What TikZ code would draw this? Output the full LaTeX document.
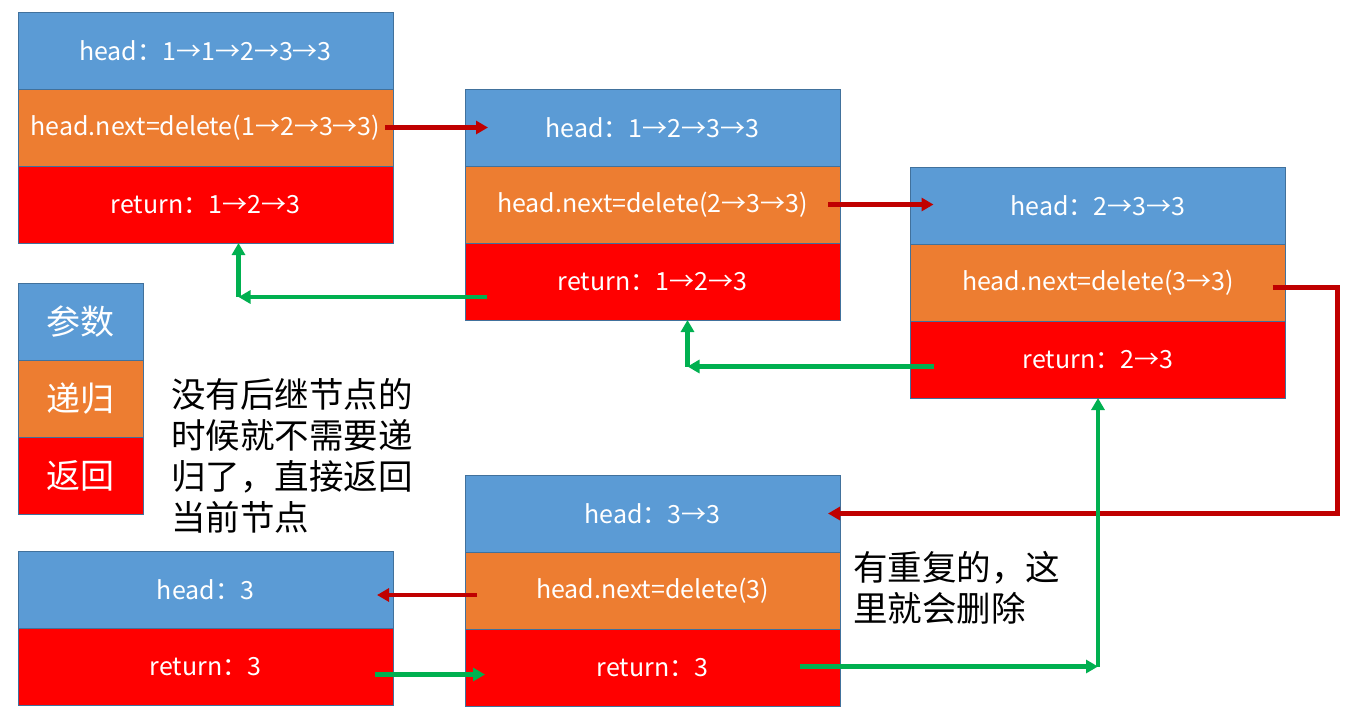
\documentclass[tikz,border=0pt]{standalone}
\usepackage{fontspec}
\newfontfamily\cjk{Noto Sans CJK SC}
\usetikzlibrary{arrows.meta,positioning}
\definecolor{paramblue}{HTML}{5B9BD5}
\definecolor{recorange}{HTML}{ED7D31}
\definecolor{retred}{HTML}{FF0000}
\definecolor{edgeblue}{HTML}{41719C}
\definecolor{calldark}{HTML}{C00000}
\definecolor{backgreen}{HTML}{00B050}
\begin{document}
\begin{tikzpicture}[x=1pt,y=-1pt]
            \tikzset{Cell/.style={%
                    shape=rectangle,%
                    draw=edgeblue,%
                    line width=0.8pt,%
                    minimum width=375pt,%
                    minimum height=77pt,%
                    inner sep=0pt,%
                    outer sep=0pt,%
                    text=white,%
                    font=\cjk\fontsize{25}{29}\selectfont,%
                    node distance=77pt,%
                },
                Head/.style={Cell, fill=paramblue},
                Next/.style={Cell, fill=recorange},
                Ret/.style={Cell, fill=retred},
                Key/.style={Cell, minimum width=125pt, font=\cjk\fontsize{34}{38}\selectfont},
                Note/.style={align=left, anchor=north west, inner sep=0pt, font=\cjk\fontsize{34.5}{41}\selectfont},
                call/.style={draw=calldark, line width=4.2pt, -{Triangle[length=12pt,width=13pt]}},
                back/.style={draw=backgreen, line width=4.2pt, -{Triangle[length=12pt,width=13pt]}},
            }
                \useasboundingbox (0,0) rectangle (1349,721);

                % first call
                \node[Head] (hA) at (205.5,50.5) {head：1→1→2→3→3};
                \node[Next, below of=hA] (nA) {head.next=delete(1→2→3→3)};
                \node[Ret, below of=nA] (rA) {return：1→2→3};
                % second call
                \node[Head] (hB) at (652.5,127.5) {head：1→2→3→3};
                \node[Next, below of=hB] (nB) {head.next=delete(2→3→3)};
                \node[Ret, below of=nB] (rB) {return：1→2→3};
                % third call
                \node[Head] (hC) at (1098,205.5) {head：2→3→3};
                \node[Next, below of=hC] (nC) {head.next=delete(3→3)};
                \node[Ret, below of=nC] (rC) {return：2→3};
                % fourth call
                \node[Head] (hD) at (652.5,513.5) {head：3→3};
                \node[Next, below of=hD] (nD) {head.next=delete(3)};
                \node[Ret, below of=nD] (rD) {return：3};
                % last node
                \node[Head] (hE) at (205.5,589.5) {head：3};
                \node[Ret, below of=hE] (rE) {return：3};

                % legend
                \node[Key, fill=paramblue] (k1) at (80.5,321.5) {参数};
                \node[Key, fill=recorange, below of=k1] (k2) {递归};
                \node[Key, fill=retred, below of=k2] (k3) {返回};

                \node[Note] (t1) at (171,378) {没有后继节点的\\时候就不需要递\\归了，直接返回\\当前节点};
                \node[Note] (t2) at (853,551) {有重复的，这\\里就会删除};

                % recursive calls
                \coordinate (c1) at ([xshift=-8pt]nA.east);
                \coordinate (e1) at ([xshift=23pt]hB.west);
                \path[call] (c1) -- (c1 -| e1);
                \coordinate (c2) at ([xshift=-12pt]nB.east);
                \coordinate (e2) at ([xshift=23pt]hC.west);
                \path[call] (c2) -- (c2 -| e2);
                \coordinate (c3) at ([xshift=-13pt,yshift=-5pt]nC.east);
                \path[call] (c3) -- ++(65,0) |- ([xshift=-12pt]hD.east);
                \coordinate (c4) at ([xshift=12pt,yshift=-4.5pt]nD.west);
                \coordinate (e4) at ([xshift=-16pt]hE.east);
                \path[call] (c4) -- (c4 -| e4);

                % returns
                \coordinate (g1) at ([xshift=-18pt,yshift=-8pt]rE.east);
                \coordinate (u1) at ([xshift=20pt]rD.west);
                \path[back] (g1) -- (g1 -| u1);
                \coordinate (g2) at ([xshift=-40pt,yshift=1pt]rD.east);
                \path[back] (g2) -- (g2 -| rC.south);
                \path[back] (g2 -| rC.south) -- (rC.south);
                \coordinate (g3) at ([xshift=23pt,yshift=-7pt]rC.west);
                \coordinate (u3) at ([xshift=35pt]rB.south);
                \path[back] (g3) -- (g3 -| u3);
                \path[back] (g3 -| u3) -- (u3);
                \coordinate (g4) at ([xshift=22pt,yshift=-15.5pt]rB.west);
                \coordinate (u4) at ([xshift=33pt]rA.south);
                \path[back] (g4) -- (g4 -| u4);
                \path[back] (g4 -| u4) -- (u4);
\end{tikzpicture}
\end{document}
